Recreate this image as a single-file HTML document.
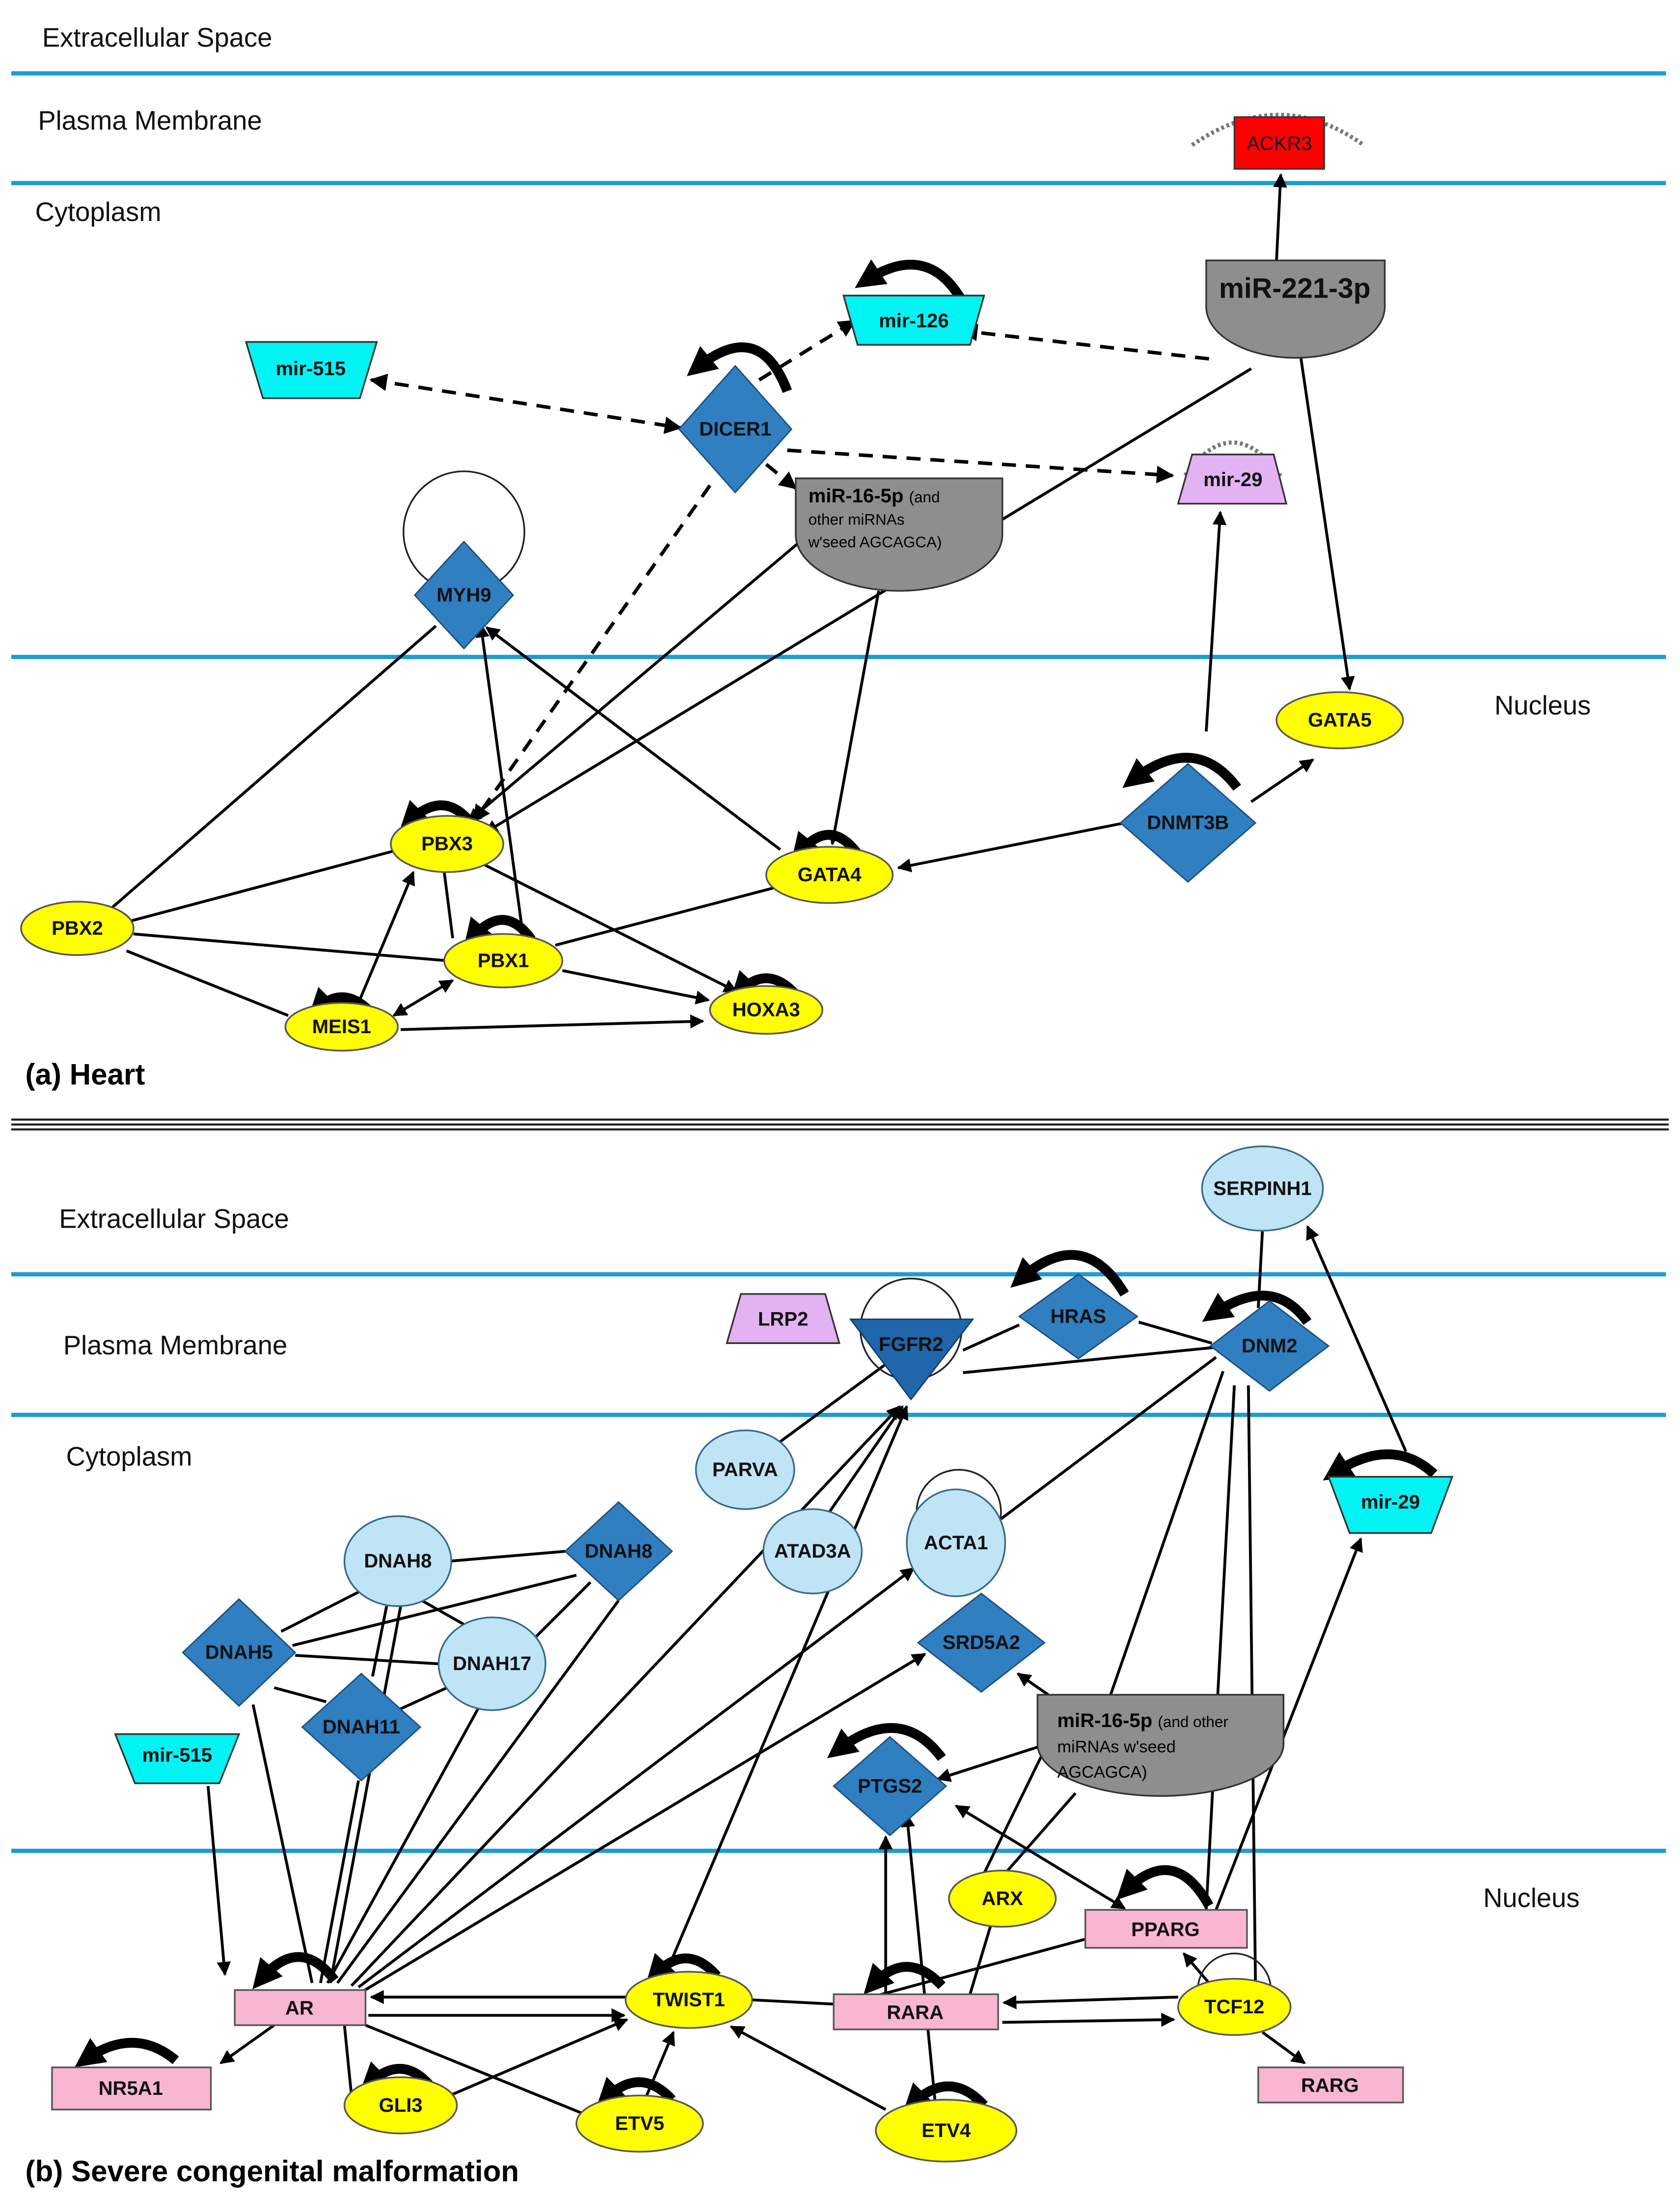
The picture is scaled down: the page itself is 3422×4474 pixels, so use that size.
<!DOCTYPE html>
<html><head><meta charset="utf-8"><style>
html,body{margin:0;padding:0;background:#fff;}
svg{display:block;}
text{font-family:"Liberation Sans",sans-serif;}
.n{font-size:14px;font-weight:bold;fill:#111;text-anchor:middle;dominant-baseline:central;}
.r{font-size:19px;fill:#111;}
.e{stroke:#000;stroke-width:2;fill:none;}
.d{stroke:#000;stroke-width:2.5;fill:none;stroke-dasharray:10 7;}
.l{stroke:#000;stroke-width:7;fill:none;}
.bl{stroke:#1d9bd3;stroke-width:3;}
.dia{fill:#2f7fc1;stroke:#1c4f80;stroke-width:1;}
.yel{fill:#ffff00;stroke:#555;stroke-width:1.2;}
.pk{fill:#f8b6d0;stroke:#555;stroke-width:1.2;}
.cy{fill:#00f4f4;stroke:#333;stroke-width:1.2;}
.lb{fill:#bfe4f6;stroke:#3a6a88;stroke-width:1.2;}
.gr{fill:#8e8e8e;stroke:#333;stroke-width:1.2;}
.pu{fill:#e2b2f2;stroke:#333;stroke-width:1.2;}
</style></head><body>
<svg width="3422" height="4474" viewBox="0 0 1195 1562" xmlns="http://www.w3.org/2000/svg">
<defs>
<marker id="a" viewBox="0 0 10 10" refX="9" refY="5" markerWidth="5" markerHeight="5" orient="auto-start-reverse"><path d="M0,0L10,5L0,10z" fill="#000"/></marker>
<marker id="b" viewBox="0 0 10 10" refX="6" refY="5" markerWidth="3" markerHeight="3" orient="auto"><path d="M0,0L10,5L0,10z" fill="#000"/></marker>
</defs>
<rect width="1195" height="1562" fill="#fff"/>
<line class="bl" x1="8" y1="52" x2="1185" y2="52"/>
<line class="bl" x1="8" y1="130" x2="1185" y2="130"/>
<line class="bl" x1="8" y1="467" x2="1185" y2="467"/>
<line x1="8" y1="796" x2="1187" y2="796" stroke="#222" stroke-width="1.5"/>
<line x1="8" y1="799.5" x2="1187" y2="799.5" stroke="#222" stroke-width="1.5"/>
<line x1="8" y1="803" x2="1187" y2="803" stroke="#222" stroke-width="1.5"/>
<line class="bl" x1="8" y1="906" x2="1185" y2="906"/>
<line class="bl" x1="8" y1="1006" x2="1185" y2="1006"/>
<line class="bl" x1="8" y1="1316" x2="1185" y2="1316"/>
<text class="r" x="30" y="33">Extracellular Space</text>
<text class="r" x="27" y="92">Plasma Membrane</text>
<text class="r" x="25" y="157">Cytoplasm</text>
<text class="r" x="1063" y="508">Nucleus</text>
<text x="18" y="771" style="font-size:21px;font-weight:bold">(a) Heart</text>
<text class="r" x="42" y="873">Extracellular Space</text>
<text class="r" x="45" y="963">Plasma Membrane</text>
<text class="r" x="47" y="1042">Cytoplasm</text>
<text class="r" x="1055" y="1356">Nucleus</text>
<text x="18" y="1551" style="font-size:21px;font-weight:bold">(b) Severe congenital malformation</text>

<g>
<line class="e" x1="908" y1="185" x2="911" y2="124" marker-end="url(#a)"/>
<line class="d" x1="860" y1="255" x2="684" y2="235" marker-end="url(#a)"/>
<line class="e" x1="925" y1="252" x2="960" y2="490" marker-end="url(#a)"/>
<line class="e" x1="890" y1="262" x2="345" y2="592" marker-end="url(#a)"/>
<line class="d" x1="264" y1="270" x2="484" y2="304" marker-start="url(#a)" marker-end="url(#a)"/>
<line class="d" x1="540" y1="270" x2="608" y2="228" marker-end="url(#a)"/>
<line class="d" x1="560" y1="320" x2="834" y2="338" marker-end="url(#a)"/>
<line class="d" x1="545" y1="330" x2="566" y2="347" marker-end="url(#a)"/>
<line class="d" x1="505" y1="345" x2="337" y2="584" marker-end="url(#a)"/>
<line class="e" x1="575" y1="380" x2="333" y2="584" marker-end="url(#a)"/>
<line class="e" x1="625" y1="420" x2="592" y2="600" marker-end="url(#a)"/>
<line class="e" x1="858" y1="520" x2="868" y2="364" marker-end="url(#a)"/>
<line class="e" x1="890" y1="570" x2="934" y2="540" marker-end="url(#a)"/>
<line class="e" x1="800" y1="585" x2="639" y2="617" marker-end="url(#a)"/>
<line class="e" x1="555" y1="604" x2="346" y2="446" marker-end="url(#a)"/>
<line class="e" x1="310" y1="445" x2="80" y2="645"/>
<line class="e" x1="372" y1="665" x2="342" y2="444" marker-end="url(#a)"/>
<line class="e" x1="280" y1="605" x2="92" y2="655"/>
<line class="e" x1="345" y1="615" x2="524" y2="705" marker-end="url(#a)"/>
<line class="e" x1="316" y1="620" x2="322" y2="667"/>
<line class="e" x1="555" y1="630" x2="395" y2="672"/>
<line class="e" x1="95" y1="664" x2="318" y2="683"/>
<line class="e" x1="90" y1="676" x2="205" y2="722"/>
<line class="e" x1="400" y1="690" x2="504" y2="711" marker-end="url(#a)"/>
<line class="e" x1="255" y1="713" x2="294" y2="620" marker-end="url(#a)"/>
<line class="e" x1="280" y1="722" x2="322" y2="697" marker-start="url(#a)" marker-end="url(#a)"/>
<line class="e" x1="285" y1="732" x2="500" y2="726" marker-end="url(#a)"/>
</g>
<path d="M848,103 Q910,60 970,103" stroke="#777" stroke-width="3" fill="none" stroke-dasharray="2 2"/>
<rect x="878" y="83" width="64" height="37" fill="#f00" stroke="#333"/>
<text class="n" x="910" y="102" style="font-weight:normal">ACKR3</text>
<path d="M858,185 H985 V218 A63,36 0 0 1 858,218 Z" class="gr"/>
<text class="n" x="921" y="205" style="font-size:20px">miR-221-3p</text>
<path class="l" d="M685,215 Q660,170 615,200" marker-end="url(#b)"/>
<path d="M600,210 H700 L690,245 H610 Z" class="cy"/>
<text class="n" x="650" y="228">mir-126</text>
<path d="M175,243 H268 L256,283 H187 Z" class="cy"/>
<text class="n" x="221" y="262">mir-515</text>
<path class="l" d="M560,278 Q540,225 495,262" marker-end="url(#b)"/>
<path d="M523,260 L563,305 L523,350 L483,305 Z" class="dia"/>
<text class="n" x="523" y="305">DICER1</text>
<path d="M566,340 H713 V380 A73.5,40 0 0 1 566,380 Z" class="gr"/>
<text x="575" y="357" style="font-size:14px;font-weight:bold">miR-16-5p <tspan style="font-size:11px;font-weight:normal">(and</tspan></text>
<text x="575" y="373" style="font-size:11px">other miRNAs</text>
<text x="575" y="389" style="font-size:11px">w'seed AGCAGCA)</text>
<path d="M843,338 Q877,290 912,340" stroke="#777" stroke-width="3" fill="none" stroke-dasharray="2 2"/>
<path d="M848,323 H906 L915,358 H838 Z" class="pu"/>
<text class="n" x="877" y="341">mir-29</text>
<circle cx="330" cy="378" r="43" fill="none" stroke="#222" stroke-width="1.2"/>
<path d="M330,385 L365,423 L330,461 L295,423 Z" class="dia"/>
<text class="n" x="330" y="423">MYH9</text>
<ellipse cx="953" cy="512" rx="45" ry="20" class="yel"/><text class="n" x="953" y="512">GATA5</text>
<path class="l" d="M880,560 Q850,520 805,555" marker-end="url(#b)"/>
<path d="M845,543 L893,585 L845,627 L797,585 Z" class="dia"/>
<text class="n" x="845" y="585">DNMT3B</text>
<path class="l" d="M335,585 Q315,560 290,585" marker-end="url(#b)"/>
<ellipse cx="318" cy="600" rx="40" ry="20" class="yel"/><text class="n" x="318" y="600">PBX3</text>
<path class="l" d="M610,607 Q590,580 568,607" marker-end="url(#b)"/>
<ellipse cx="590" cy="622" rx="45" ry="20" class="yel"/><text class="n" x="590" y="622">GATA4</text>
<ellipse cx="55" cy="660" rx="40" ry="19" class="yel"/><text class="n" x="55" y="660">PBX2</text>
<path class="l" d="M378,668 Q358,640 335,668" marker-end="url(#b)"/>
<ellipse cx="358" cy="683" rx="42" ry="19" class="yel"/><text class="n" x="358" y="683">PBX1</text>
<path class="l" d="M262,718 Q243,700 225,718" marker-end="url(#b)"/>
<ellipse cx="243" cy="730" rx="40" ry="17" class="yel"/><text class="n" x="243" y="730">MEIS1</text>
<path class="l" d="M565,706 Q545,685 525,706" marker-end="url(#b)"/>
<ellipse cx="545" cy="718" rx="40" ry="17" class="yel"/><text class="n" x="545" y="718">HOXA3</text>

<g>
<line class="e" x1="898" y1="875" x2="895" y2="930"/>
<line class="e" x1="1000" y1="1032" x2="930" y2="872" marker-end="url(#a)"/>
<line class="e" x1="725" y1="942" x2="685" y2="960"/>
<line class="e" x1="810" y1="940" x2="862" y2="955"/>
<line class="e" x1="685" y1="976" x2="864" y2="958"/>
<line class="e" x1="555" y1="1025" x2="630" y2="970"/>
<line class="e" x1="590" y1="1075" x2="642" y2="1000" marker-end="url(#a)"/>
<line class="e" x1="250" y1="1412" x2="640" y2="1000" marker-end="url(#a)"/>
<line class="e" x1="475" y1="1400" x2="645" y2="1000" marker-end="url(#a)"/>
<line class="e" x1="255" y1="1413" x2="650" y2="1115" marker-end="url(#a)"/>
<line class="e" x1="258" y1="1416" x2="658" y2="1176" marker-end="url(#a)"/>
<line class="e" x1="240" y1="1410" x2="440" y2="1138"/>
<line class="e" x1="235" y1="1410" x2="285" y2="1142"/>
<line class="e" x1="233" y1="1410" x2="340" y2="1215"/>
<line class="e" x1="228" y1="1410" x2="255" y2="1266"/>
<line class="e" x1="222" y1="1410" x2="180" y2="1212"/>
<line class="e" x1="320" y1="1110" x2="402" y2="1103"/>
<line class="e" x1="255" y1="1132" x2="200" y2="1160"/>
<line class="e" x1="275" y1="1142" x2="265" y2="1192"/>
<line class="e" x1="300" y1="1138" x2="330" y2="1155"/>
<line class="e" x1="208" y1="1170" x2="410" y2="1120"/>
<line class="e" x1="210" y1="1177" x2="312" y2="1183"/>
<line class="e" x1="195" y1="1200" x2="232" y2="1210"/>
<line class="e" x1="380" y1="1165" x2="420" y2="1125"/>
<line class="e" x1="285" y1="1215" x2="318" y2="1200"/>
<line class="e" x1="865" y1="965" x2="712" y2="1080"/>
<line class="e" x1="870" y1="975" x2="790" y2="1205"/>
<line class="e" x1="878" y1="985" x2="858" y2="1358"/>
<line class="e" x1="888" y1="985" x2="893" y2="1408"/>
<line class="e" x1="700" y1="1332" x2="745" y2="1240"/>
<line class="e" x1="715" y1="1332" x2="765" y2="1275"/>
<line class="e" x1="705" y1="1368" x2="690" y2="1418"/>
<line class="e" x1="760" y1="1215" x2="724" y2="1190" marker-end="url(#a)"/>
<line class="e" x1="745" y1="1240" x2="667" y2="1265" marker-end="url(#a)"/>
<line class="e" x1="680" y1="1284" x2="800" y2="1357" marker-start="url(#a)" marker-end="url(#a)"/>
<line class="e" x1="630" y1="1418" x2="630" y2="1306" marker-end="url(#a)"/>
<line class="e" x1="665" y1="1493" x2="645" y2="1290" marker-end="url(#a)"/>
<line class="e" x1="775" y1="1378" x2="620" y2="1420"/>
<line class="e" x1="860" y1="1410" x2="842" y2="1389" marker-end="url(#a)"/>
<line class="e" x1="865" y1="1358" x2="968" y2="1094" marker-end="url(#a)"/>
<line class="e" x1="898" y1="1445" x2="928" y2="1467" marker-end="url(#a)"/>
<line class="e" x1="713" y1="1438" x2="835" y2="1436" marker-end="url(#a)"/>
<line class="e" x1="838" y1="1420" x2="714" y2="1424" marker-end="url(#a)"/>
<line class="e" x1="535" y1="1422" x2="593" y2="1425"/>
<line class="e" x1="445" y1="1420" x2="264" y2="1420" marker-end="url(#a)"/>
<line class="e" x1="262" y1="1433" x2="444" y2="1433" marker-end="url(#a)"/>
<line class="e" x1="195" y1="1440" x2="157" y2="1467" marker-end="url(#a)"/>
<line class="e" x1="245" y1="1440" x2="250" y2="1490"/>
<line class="e" x1="260" y1="1440" x2="415" y2="1503"/>
<line class="e" x1="320" y1="1490" x2="446" y2="1436" marker-end="url(#a)"/>
<line class="e" x1="460" y1="1490" x2="479" y2="1445" marker-end="url(#a)"/>
<line class="e" x1="630" y1="1500" x2="520" y2="1441" marker-end="url(#a)"/>
<line class="e" x1="148" y1="1270" x2="160" y2="1404" marker-end="url(#a)"/>
</g>
<ellipse cx="898" cy="845" rx="43" ry="30" class="lb"/><text class="n" x="898" y="845">SERPINH1</text>
<path d="M527,920 H587 L597,955 H517 Z" class="pu"/><text class="n" x="557" y="938">LRP2</text>
<circle cx="648" cy="945" r="36" fill="none" stroke="#222" stroke-width="1.2"/>
<path d="M605,938 H692 L648,995 Z" fill="#1f66aa" stroke="#133f6a"/>
<text class="n" x="648" y="956">FGFR2</text>
<path class="l" d="M800,920 Q770,870 725,910" marker-end="url(#b)"/>
<path d="M767,906 L809,936 L767,966 L725,936 Z" class="dia"/><text class="n" x="767" y="936">HRAS</text>
<path class="l" d="M930,940 Q905,905 862,935" marker-end="url(#b)"/>
<path d="M903,925 L945,957 L903,989 L861,957 Z" class="dia"/><text class="n" x="903" y="957">DNM2</text>
<ellipse cx="530" cy="1045" rx="35" ry="28" class="lb"/><text class="n" x="530" y="1045">PARVA</text>
<ellipse cx="578" cy="1103" rx="35" ry="30" class="lb"/><text class="n" x="578" y="1103">ATAD3A</text>
<circle cx="682" cy="1075" r="30" fill="none" stroke="#222" stroke-width="1.2"/>
<ellipse cx="680" cy="1097" rx="35" ry="38" class="lb"/><text class="n" x="680" y="1097">ACTA1</text>
<path class="l" d="M1020,1048 Q990,1020 948,1048" marker-end="url(#b)"/>
<path d="M945,1050 H1033 L1018,1090 H960 Z" class="cy"/><text class="n" x="989" y="1068">mir-29</text>
<ellipse cx="283" cy="1110" rx="38" ry="32" class="lb"/><text class="n" x="283" y="1110">DNAH8</text>
<path d="M440,1068 L478,1103 L440,1138 L402,1103 Z" class="dia"/><text class="n" x="440" y="1103">DNAH8</text>
<path d="M170,1137 L210,1175 L170,1213 L130,1175 Z" class="dia"/><text class="n" x="170" y="1175">DNAH5</text>
<ellipse cx="350" cy="1183" rx="38" ry="33" class="lb"/><text class="n" x="350" y="1183">DNAH17</text>
<path d="M257,1190 L299,1228 L257,1266 L215,1228 Z" class="dia"/><text class="n" x="257" y="1228">DNAH11</text>
<path d="M698,1133 L743,1168 L698,1203 L653,1168 Z" class="dia"/><text class="n" x="698" y="1168">SRD5A2</text>
<path d="M738,1205 H913 V1240 A87.5,37 0 0 1 738,1240 Z" class="gr"/>
<text x="752" y="1228" style="font-size:14px;font-weight:bold">miR-16-5p <tspan style="font-size:11px;font-weight:normal">(and other</tspan></text>
<text x="752" y="1246" style="font-size:12px">miRNAs w'seed</text>
<text x="752" y="1264" style="font-size:12px">AGCAGCA)</text>
<path class="l" d="M670,1250 Q640,1210 595,1245" marker-end="url(#b)"/>
<path d="M633,1235 L673,1270 L633,1305 L593,1270 Z" class="dia"/><text class="n" x="633" y="1270">PTGS2</text>
<path d="M82,1233 H170 L156,1268 H96 Z" class="cy"/><text class="n" x="126" y="1248">mir-515</text>
<ellipse cx="713" cy="1350" rx="38" ry="20" class="yel"/><text class="n" x="713" y="1350">ARX</text>
<path class="l" d="M860,1355 Q835,1310 800,1345" marker-end="url(#b)"/>
<rect x="772" y="1358" width="115" height="27" class="pk"/><text class="n" x="829" y="1372">PPARG</text>
<circle cx="878" cy="1415" r="26" fill="none" stroke="#222" stroke-width="1.2"/>
<ellipse cx="878" cy="1427" rx="40" ry="20" class="yel"/><text class="n" x="878" y="1427">TCF12</text>
<path class="l" d="M238,1408 Q213,1375 185,1408" marker-end="url(#b)"/>
<rect x="167" y="1415" width="93" height="25" class="pk"/><text class="n" x="213" y="1428">AR</text>
<path class="l" d="M510,1405 Q488,1380 465,1405" marker-end="url(#b)"/>
<ellipse cx="490" cy="1422" rx="45" ry="20" class="yel"/><text class="n" x="490" y="1422">TWIST1</text>
<path class="l" d="M670,1412 Q645,1385 620,1412" marker-end="url(#b)"/>
<rect x="593" y="1418" width="117" height="25" class="pk"/><text class="n" x="651" y="1431">RARA</text>
<path class="l" d="M125,1465 Q95,1440 60,1465" marker-end="url(#b)"/>
<rect x="37" y="1470" width="113" height="30" class="pk"/><text class="n" x="93" y="1485">NR5A1</text>
<rect x="895" y="1470" width="103" height="25" class="pk"/><text class="n" x="946" y="1483">RARG</text>
<path class="l" d="M305,1482 Q285,1460 262,1482" marker-end="url(#b)"/>
<ellipse cx="285" cy="1497" rx="40" ry="20" class="yel"/><text class="n" x="285" y="1497">GLI3</text>
<path class="l" d="M478,1493 Q455,1468 430,1493" marker-end="url(#b)"/>
<ellipse cx="455" cy="1510" rx="45" ry="20" class="yel"/><text class="n" x="455" y="1510">ETV5</text>
<path class="l" d="M700,1497 Q675,1470 648,1497" marker-end="url(#b)"/>
<ellipse cx="673" cy="1515" rx="50" ry="22" class="yel"/><text class="n" x="673" y="1515">ETV4</text>
</svg>
</body></html>
